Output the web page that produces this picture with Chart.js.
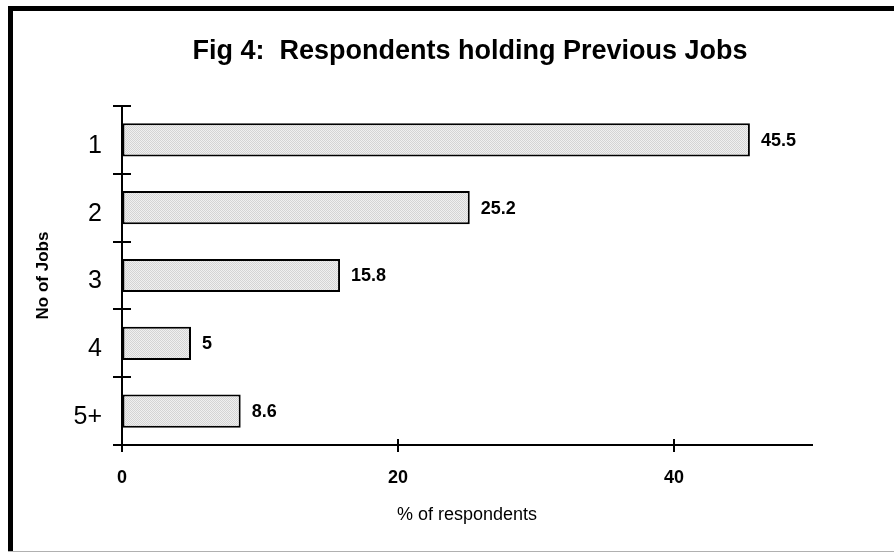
<!DOCTYPE html>
<html>
<head>
<meta charset="utf-8">
<script src="https://cdn.jsdelivr.net/npm/chart.js@4/dist/chart.umd.min.js"></script>
<style>
  html, body { margin: 0; padding: 0; background: #fff; }
  #wrap { width: 894px; height: 552px; }
</style>
</head>
<body>
<div id="wrap"><canvas id="jobsChart" width="894" height="552"></canvas></div>
<script>
const categories = ['1', '2', '3', '4', '5+'];
const percents = [45.5, 25.2, 15.8, 5, 8.6];
const xTicks = [0, 20, 40];
const titleText = 'Fig 4:  Respondents holding Previous Jobs';

const FONT = "Arial, 'Liberation Sans', sans-serif";

// stippled grey fill used for the bars
function stipple() {
    const c = document.createElement('canvas');
    c.width = 2; c.height = 2;
    const g = c.getContext('2d');
    g.fillStyle = '#f0f0f0'; g.fillRect(0, 0, 2, 2);
    g.fillStyle = '#d4d4d4'; g.fillRect(0, 0, 1, 1); g.fillRect(1, 1, 1, 1);
    return g.createPattern(c, 'repeat');
}

// page frame, title, crossing tick marks and value labels
const decor = {
    id: 'decor',
    beforeDraw(chart) {
        const ctx = chart.ctx;
        ctx.save();
        ctx.fillStyle = '#000';
        ctx.fillRect(8, 6, chart.width - 8, 5);
        ctx.fillRect(8, 6, 5, chart.height - 6);
        ctx.fillStyle = '#b0b0b0';
        ctx.fillRect(8, chart.height - 1, chart.width - 8, 1);
        ctx.restore();
    },
    afterDraw(chart) {
        const ctx = chart.ctx;
        const area = chart.chartArea;
        const xs = chart.scales.x, ys = chart.scales.y;
        ctx.save();
        ctx.fillStyle = '#000';
        ctx.font = 'bold 27px ' + FONT;
        ctx.textAlign = 'center';
        ctx.textBaseline = 'middle';
        ctx.fillText(titleText, (area.left + area.right) / 2 + 3, 52);

        ctx.strokeStyle = '#000';
        ctx.lineWidth = 2;
        ctx.beginPath();
        for (let i = 0; i <= categories.length; i++) {
            const y = Math.round(ys.getPixelForValue(i - 0.5));
            ctx.moveTo(area.left - 9, y);
            ctx.lineTo(area.left + 9, y);
        }
        xs.ticks.forEach(t => {
            const x = Math.round(xs.getPixelForValue(t.value));
            ctx.moveTo(x, area.bottom - 6);
            ctx.lineTo(x, area.bottom + 7);
        });
        ctx.stroke();

        ctx.font = 'bold 18px ' + FONT;
        ctx.textAlign = 'left';
        chart.getDatasetMeta(0).data.forEach((bar, i) => {
            ctx.fillText(String(percents[i]), bar.x + 11, bar.y + 1);
        });
        ctx.restore();
    }
};

new Chart(document.getElementById('jobsChart'), {
    type: 'bar',
    data: {
        labels: categories,
        datasets: [{
            data: percents,
            backgroundColor: stipple(),
            borderColor: '#000',
            borderWidth: 2,
            borderSkipped: false,
            categoryPercentage: 1,
            barPercentage: 0.49
        }]
    },
    options: {
        indexAxis: 'y',
        responsive: false,
        animation: false,
        layout: { padding: { top: 106, right: 82, left: 0, bottom: 0 } },
        plugins: { legend: { display: false }, tooltip: { enabled: false }, title: { display: false } },
        scales: {
            x: {
                min: 0, max: 50,
                afterBuildTicks: (s) => { s.ticks = xTicks.map(v => ({ value: v })); },
                afterFit: (s) => { s.height = 107; },
                grid: { drawOnChartArea: false, drawTicks: false },
                border: { color: '#000', width: 2 },
                ticks: { padding: 22, color: '#000', font: { family: FONT, size: 18, weight: 'bold' } },
                title: { display: true, text: '% of respondents', color: '#000', padding: { top: 0, bottom: 26 }, font: { family: FONT, size: 18 } }
            },
            y: {
                afterFit: (s) => { s.width = 122; },
                grid: { drawOnChartArea: false, drawTicks: false, offset: true },
                border: { color: '#000', width: 2 },
                ticks: { padding: 20, labelOffset: 6, color: '#000', font: { family: FONT, size: 25 } },
                title: { display: true, text: 'No of Jobs', color: '#000', padding: { top: 33, bottom: 0 }, font: { family: FONT, size: 17, weight: 'bold' } }
            }
        }
    },
    plugins: [decor]
});
</script>
</body>
</html>
